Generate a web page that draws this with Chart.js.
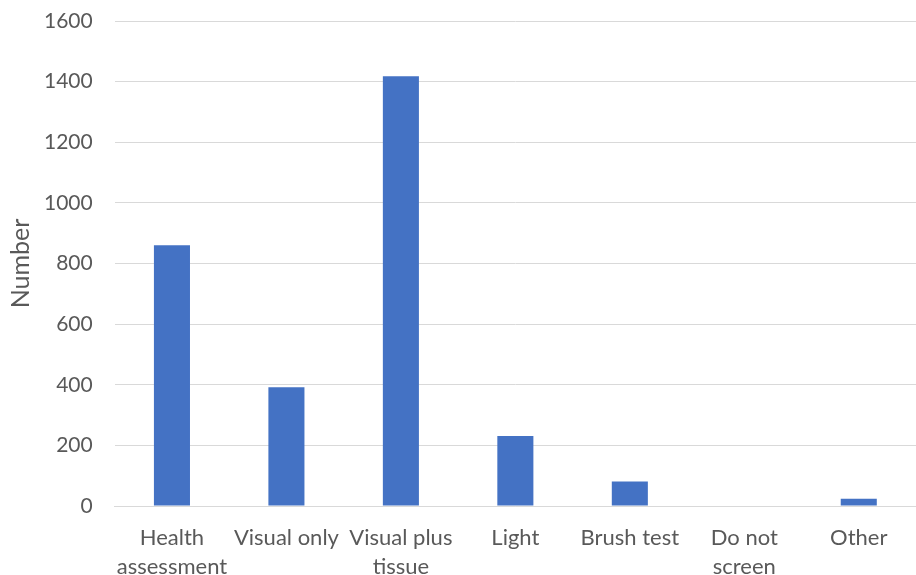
<!DOCTYPE html>
<html>
<head>
<meta charset="utf-8">
<script src="https://cdn.jsdelivr.net/npm/chart.js@4"></script>
<style>
  html, body { margin: 0; padding: 0; background: #fff; }
  #wrap { width: 916px; height: 575px; position: relative; }
</style>
</head>
<body>
<div id="wrap"><canvas id="myChart"></canvas></div>
<script>
var categories = [["Health", "assessment"], "Visual only", ["Visual plus", "tissue"], "Light", "Brush test", ["Do not", "screen"], "Other"];
var counts = [860, 392, 1418, 231, 81, 0, 24];
var yTicks = [0, 200, 400, 600, 800, 1000, 1200, 1400, 1600];

var ctx = document.getElementById('myChart').getContext('2d');
var myChart = new Chart(ctx, {
    type: 'bar',
    data: {
        labels: categories,
        datasets: [{
            label: 'Number',
            data: counts,
            backgroundColor: '#4472c4',
            borderWidth: 0,
            barPercentage: 0.315,
            categoryPercentage: 1
        }]
    },
    options: {
        responsive: true,
        maintainAspectRatio: false,
        animation: false,
        layout: { padding: { top: 21, right: 0, bottom: 0, left: 0 } },
        plugins: {
            legend: { display: false },
            tooltip: { enabled: false }
        },
        scales: {
            x: {
                // invisible tick marks keep the gap without widening the side padding
                grid: { display: false, drawTicks: true, tickLength: 17 },
                border: { color: '#d9d9d9', width: 1 },
                ticks: {
                    color: '#595959',
                    font: { family: 'Lato', size: 22, lineHeight: 1.32 },
                    maxRotation: 0,
                    autoSkip: false,
                    padding: 0
                },
                // second label line runs off the bottom edge like in the original
                afterFit: function(scale) { scale.height = 69; }
            },
            y: {
                min: 0,
                max: 1600,
                afterBuildTicks: function(axis) {
                    axis.ticks = yTicks.map(function(v) { return { value: v }; });
                },
                grid: { color: '#d9d9d9', lineWidth: 1, drawTicks: true, tickLength: 22, tickColor: 'rgba(0,0,0,0)' },
                border: { display: false },
                ticks: {
                    color: '#595959',
                    font: { family: 'Lato', size: 21 },
                    padding: 0,
                    callback: function(value) { return String(value); }
                },
                title: {
                    display: true,
                    text: 'Number',
                    color: '#595959',
                    font: { family: 'Lato', size: 25 },
                    padding: { top: 6, bottom: 8 }
                }
            }
        }
    }
});
</script>
</body>
</html>
